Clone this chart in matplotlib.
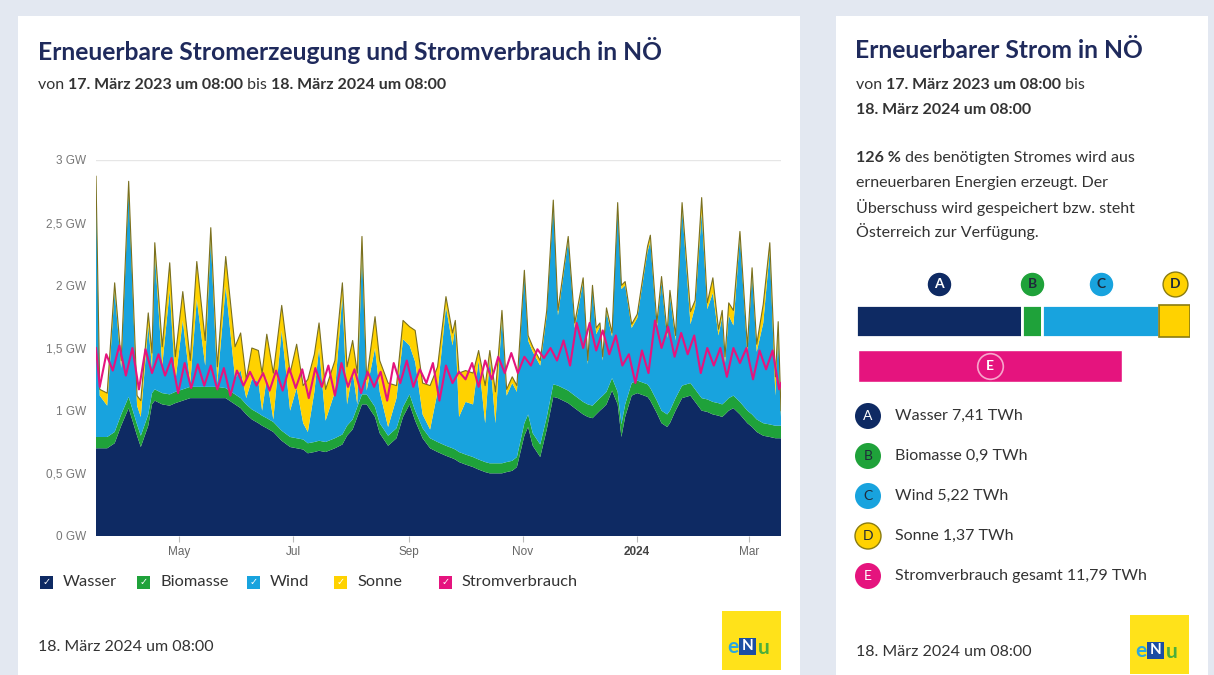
import matplotlib
matplotlib.use('Agg')
import matplotlib.pyplot as plt
import matplotlib.patches as mpatches
import numpy as np
import pandas as pd

# --- Daten ---
start = pd.Timestamp('2023-03-17 08:00')

# Tage ab Start, Schichtdicken in GW
tage = [0, 2, 6, 10, 13.5, 17.5, 22, 24, 28, 30, 31.5, 35.5, 39.5, 42.5, 46.5, 50.5,
        54, 58.5, 61.5, 65, 69.5, 74.5, 77.5, 80.5, 83.5, 87, 89, 91.5, 95, 99.5,
        104, 107.5, 111, 113.5, 117, 119.5, 123, 128, 132, 134.5, 137.5, 140, 142.5,
        145, 149.5, 152, 156.5, 161, 164.5, 168, 171, 175, 179, 183, 187.5, 191,
        192.5, 194.5, 198, 202, 205, 208.5, 211, 214, 217.5, 220, 223, 225.5, 229.5,
        231.5, 234, 238, 241.5, 245, 247.5, 253, 256.5, 261, 263.5, 266, 268, 270,
        271.5, 273.5, 276.5, 279.5, 281.5, 283.5, 287, 290, 295.5, 297, 300.5, 303,
        306, 307.5, 310.5, 314, 318.5, 321, 324.5, 327.5, 330.5, 333.5, 335.5, 337,
        339, 341.5, 345, 349, 351.5, 354, 357.5, 361, 364, 365.5, 367]
wasser = [.70, .70, .70, .74, .88, 1.02, .80, .71, .88, 1.05, 1.08, 1.05, 1.04, 1.06, 1.08, 1.10,
          1.10, 1.10, 1.10, 1.10, 1.10, 1.05, 1.02, .97, .93, .90, .88, .86, .83, .76,
          .71, .70, .69, .66, .67, .68, .67, .70, .73, .80, .85, .95, 1.05,
          1.05, .95, .82, .72, .78, .95, 1.05, .92, .78, .70, .67, .64, .62,
          .61, .59, .57, .55, .53, .51, .50, .50, .50, .51, .52, .55, .80,
          .87, .72, .63, .85, 1.11, 1.10, 1.06, 1.02, .97, .95, .94, .97, 1.00,
          1.02, 1.05, 1.16, 1.05, .79, .95, 1.12, 1.14, 1.11, 1.08, .98, .90,
          .87, .90, 1.00, 1.10, 1.12, 1.07, 1.00, .99, .97, .96, .95, .97,
          1.00, 1.02, .97, .90, .87, .83, .80, .79, .78, .78, .78]
biomasse = [.09] * 20 + [.08] * 48 + [.10] * 49
wind = [2.03, .33, .25, 1.13, .37, 1.66, .15, .15, .71, .20, 1.09, .22, .83, .08, .55, .03,
        .70, .17, 1.19, .03, .81, .13, .22, .05, .24, .25, .04, .32, .02, .80,
        .21, .40, .13, .09, .40, .74, .17, .37, 1.11, .17, .38, .02, 1.16,
        .03, .47, .25, .07, .24, .54, .39, .39, .11, .07, .40, 1.11, .82,
        .98, .28, .42, .42, .79, .31, .85, .32, 1.17, .53, .62, .52, 1.19,
        .59, .65, .63, .81, 1.44, .56, 1.20, .54, .96, .32, .93, .54, .57,
        .28, .64, .33, 1.48, 1.08, .95, .44, .50, 1.06, 1.17, .58, 1.03,
        .61, .92, .46, 1.42, .47, .66, 1.48, .72, .87, .54, .70, .31,
        .66, .56, 1.32, .45, 1.13, .54, .80, 1.39, .24, .73, .07]
sonne = [.05, .05, .10, .06, .06, .06, .08, .13, .10, .12, .08, .15, .22, .20, .23, .18,
         .30, .20, .08, .13, .24, .25, .30, .15, .25, .25, .30, .35, .37, .20,
         .30, .35, .30, .42, .30, .20, .25, .25, .10, .30, .25, .25, .10,
         .09, .25, .25, .35, .10, .15, .15, .25, .25, .35, .20, .08, .10,
         .05, .35, .25, .25, .08, .30, .05, .25, .05, .05, .05, .05, .03,
         .04, .04, .04, .04, .03, .04, .03, .04, .03, .03, .03, .05, .03,
         .03, .03, .03, .03, .03, .03, .03, .03, .04, .05, .04, .04,
         .04, .04, .04, .04, .10, .05, .12, .05, .12, .05, .05, .05,
         .10, .12, .04, .06, .04, .06, .15, .06, .15, .10, .05]

# Stromverbrauch: Sonntage (tief) und Wochenmitte (hoch), GW
verbrauch_start = 1.50
verbrauch_sonntag = [1.19, 1.32, 1.28, 1.17, 1.30, 1.28, 1.14, 1.18, 1.20, 1.17, 1.12, 1.20, 1.20,
                     1.16, 1.16, 1.18, 1.10, 1.19, 1.12, 1.19, 1.14, 1.19, 1.08, 1.22, 1.19, 1.22,
                     1.08, 1.22, 1.25, 1.19, 1.25, 1.30, 1.30, 1.36, 1.42, 1.40, 1.36, 1.50, 1.48,
                     1.45, 1.36, 1.22, 1.30, 1.50, 1.43, 1.45, 1.30, 1.36, 1.27, 1.38, 1.25, 1.33, 1.17]
verbrauch_woche = [1.45, 1.52, 1.50, 1.49, 1.45, 1.42, 1.38, 1.37, 1.36, 1.34, 1.32, 1.31, 1.30,
                   1.32, 1.34, 1.33, 1.34, 1.36, 1.38, 1.33, 1.31, 1.31, 1.38, 1.40, 1.33, 1.38,
                   1.36, 1.31, 1.38, 1.40, 1.43, 1.46, 1.43, 1.49, 1.50, 1.56, 1.70, 1.70, 1.64,
                   1.60, 1.45, 1.48, 1.72, 1.67, 1.62, 1.60, 1.50, 1.50, 1.50, 1.50, 1.48, 1.48]
verbrauch_ende = 1.22

serien = ['Wasser', 'Biomasse', 'Wind', 'Sonne', 'Stromverbrauch']
farben = ['#0e2a63', '#1fa23a', '#18a3de', '#ffd200', '#e5147e']
yticks = [0, 0.5, 1, 1.5, 2, 2.5, 3]
ylabels = ['0 GW', '0,5 GW', '1 GW', '1,5 GW', '2 GW', '2,5 GW', '3 GW']
xticks = ['2023-05-01', '2023-07-01', '2023-09-01', '2023-11-01', '2024-01-01', '2024-03-01']
xlabels = ['May', 'Jul', 'Sep', 'Nov', '2024', 'Mar']

# Jahressummen TWh
summen = [7.41, 0.9, 5.22, 1.37]
verbrauch_gesamt = 11.79
buchstaben = ['A', 'B', 'C', 'D', 'E']

W, H = 1214, 675
def fx(x):
    return x / W
def fy(y):
    return 1 - y / H

FONT = ['Lato', 'DejaVu Sans']
NAVY = '#1f2a5c'
GRAU = '#333333'
TXT = 11.5

fig = plt.figure(figsize=(W / 100, H / 100), dpi=100)
fig.patch.set_facecolor('#e3e8f1')
fig.patches.append(mpatches.Rectangle((fx(18), 0), fx(800) - fx(18), fy(16), transform=fig.transFigure,
                                      facecolor='white', edgecolor='none', zorder=-5))
fig.patches.append(mpatches.Rectangle((fx(836), 0), fx(1208) - fx(836), fy(16), transform=fig.transFigure,
                                      facecolor='white', edgecolor='none', zorder=-5))
renderer = fig.canvas.get_renderer()

def zeile(x, y, teile, size=TXT, color=GRAU):
    for txt, fett in teile:
        t = fig.text(fx(x), fy(y), txt, fontsize=size, color=color, family=FONT,
                     fontweight='bold' if fett else 'normal', va='center', ha='left')
        x += t.get_window_extent(renderer).width
    return x

# --- linke Karte ---
fig.text(fx(38), fy(50), 'Erneuerbare Stromerzeugung und Stromverbrauch in NÖ', fontsize=17.7,
         fontweight='bold', color=NAVY, family=FONT, va='center')
zeile(38, 85, [('von ', False), ('17. März 2023 um 08:00', True), (' bis ', False),
               ('18. März 2024 um 08:00', True)])

ax = fig.add_axes([fx(96), fy(536), fx(781) - fx(96), fy(160) - fy(536)])
datum = start + pd.to_timedelta(tage, unit='D')
ax.stackplot(datum, wasser, biomasse, wind, sonne, colors=farben[:4], linewidth=0)
gesamt = np.array(wasser) + np.array(biomasse) + np.array(wind) + np.array(sonne)
ax.plot(datum, gesamt, color='#7a7020', lw=0.8)

v_tage = [0]
v_werte = [verbrauch_start]
for k in range(len(verbrauch_sonntag)):
    v_tage.append(2 + 7 * k)
    v_werte.append(verbrauch_sonntag[k])
    if k < len(verbrauch_woche):
        v_tage.append(5.5 + 7 * k)
        v_werte.append(verbrauch_woche[k])
v_tage.append(367)
v_werte.append(verbrauch_ende)
ax.plot(start + pd.to_timedelta(v_tage, unit='D'), v_werte, color=farben[4], lw=1.5)

ax.set_xlim(start, start + pd.Timedelta(days=367))
ax.set_ylim(0, 3)
ax.axhline(3, color='#e6e6e6', lw=1, zorder=0)
for s in ax.spines.values():
    s.set_visible(False)
ax.set_yticks(yticks)
ax.set_yticklabels(ylabels, fontsize=8.5, color='#777777', family=['Liberation Sans'])
ax.tick_params(axis='y', length=0, pad=7)
ax.set_xticks(pd.to_datetime(xticks))
ax.set_xticklabels(xlabels, fontsize=8.5, color='#666666', family=['Liberation Sans'])
ax.tick_params(axis='x', length=4, color='#bbbbbb', pad=3)
for lab in ax.get_xticklabels():
    if lab.get_text() == '2024':
        lab.set_fontweight('bold')
        lab.set_color('#444444')

# Legende mit Kästchen
leg_x = [40, 137, 247, 334, 439]
for x, name, c in zip(leg_x, serien, farben):
    fig.patches.append(mpatches.Rectangle((fx(x), fy(589)), 13 / W, 13 / H, transform=fig.transFigure,
                                          facecolor=c, edgecolor='none'))
    fig.text(fx(x + 6.5), fy(582), '✓', fontsize=7, color='white', fontweight='bold',
             family=['DejaVu Sans'], ha='center', va='center')
    fig.text(fx(x + 23), fy(582), name, fontsize=11.8, color=GRAU, family=FONT, va='center')

fig.text(fx(38), fy(647), '18. März 2024 um 08:00', fontsize=TXT, color=GRAU, family=FONT, va='center')

def logo(x0, y0):
    fig.patches.append(mpatches.Rectangle((fx(x0), fy(y0 + 59)), 59 / W, 59 / H, transform=fig.transFigure,
                                          facecolor='#ffe21a', edgecolor='none'))
    fig.patches.append(mpatches.Rectangle((fx(x0 + 17), fy(y0 + 44)), 17 / W, 17 / H, transform=fig.transFigure,
                                          facecolor='#1b4ea3', edgecolor='none'))
    fig.text(fx(x0 + 11), fy(y0 + 36), 'e', fontsize=15, fontweight='bold', color='#2aa7df',
             family=FONT, ha='center', va='center')
    fig.text(fx(x0 + 25.5), fy(y0 + 35.5), 'N', fontsize=11, fontweight='bold', color='white',
             family=FONT, ha='center', va='center')
    fig.text(fx(x0 + 42), fy(y0 + 37), 'u', fontsize=15, fontweight='bold', color='#4cae3a',
             family=FONT, ha='center', va='center')

logo(722, 611)

# --- rechte Karte ---
fig.text(fx(855), fy(50), 'Erneuerbarer Strom in NÖ', fontsize=17.7, fontweight='bold',
         color=NAVY, family=FONT, va='center')
zeile(856, 85, [('von ', False), ('17. März 2023 um 08:00', True), (' bis', False)])
zeile(856, 110, [('18. März 2024 um 08:00', True)])
anteil = round(100 * sum(summen) / verbrauch_gesamt)
zeile(856, 158, [(f'{anteil} %', True), (' des benötigten Stromes wird aus', False)])
zeile(856, 183, [('erneuerbaren Energien erzeugt. Der', False)])
zeile(856, 208, [('Überschuss wird gespeichert bzw. steht', False)])
zeile(856, 232, [('Österreich zur Verfügung.', False)])

ax2 = fig.add_axes([fx(856), fy(392), fx(1190) - fx(856), fy(268) - fy(392)])
ax2.set_xlim(0, sum(summen))
ax2.set_ylim(124, 0)
ax2.axis('off')
links = np.concatenate([[0], np.cumsum(summen)[:-1]])
textfarben = ['white', '#1f2a3a', '#1f2a3a', '#1f2a3a', 'white']
for i in range(4):
    ax2.barh(53, summen[i], left=links[i], height=32, color=farben[i],
             edgecolor='#8a7c10' if i == 3 else 'white', linewidth=1.2 if i == 3 else 2)
    mitte = links[i] + summen[i] / 2
    ax2.scatter([mitte], [16], s=320, color=farben[i], edgecolors='#8a7c10' if i == 3 else 'white',
                linewidths=1, zorder=3)
    ax2.text(mitte, 16.5, buchstaben[i], fontsize=10, fontweight='bold', color=textfarben[i],
             family=FONT, ha='center', va='center', zorder=4)
ax2.barh(98, verbrauch_gesamt, left=0.08, height=32, color=farben[4], edgecolor='white', linewidth=1)
ax2.scatter([0.08 + verbrauch_gesamt / 2], [98], s=340, color=farben[4], edgecolors='#f7a6cc',
            linewidths=1.2, zorder=3)
ax2.text(0.08 + verbrauch_gesamt / 2, 98.5, 'E', fontsize=10, fontweight='bold', color='white',
         family=FONT, ha='center', va='center', zorder=4)

werte = summen + [verbrauch_gesamt]
namen = ['Wasser', 'Biomasse', 'Wind', 'Sonne', 'Stromverbrauch gesamt']
for i in range(5):
    y = 416 + 40 * i
    fig.patches.append(mpatches.Ellipse((fx(868), fy(y)), 26 / W, 26 / H, transform=fig.transFigure,
                                        facecolor=farben[i],
                                        edgecolor='#8a7c10' if i == 3 else 'none', linewidth=1))
    fig.text(fx(868), fy(y - 0.5), buchstaben[i], fontsize=10, color=textfarben[i], family=FONT,
             ha='center', va='center')
    wert = f'{werte[i]:g}'.replace('.', ',')
    fig.text(fx(895), fy(y), f'{namen[i]} {wert} TWh', fontsize=TXT, color=GRAU, family=FONT, va='center')

fig.text(fx(856), fy(652), '18. März 2024 um 08:00', fontsize=TXT, color=GRAU, family=FONT, va='center')
logo(1130, 615)

fig.savefig('out.png', dpi=100)
